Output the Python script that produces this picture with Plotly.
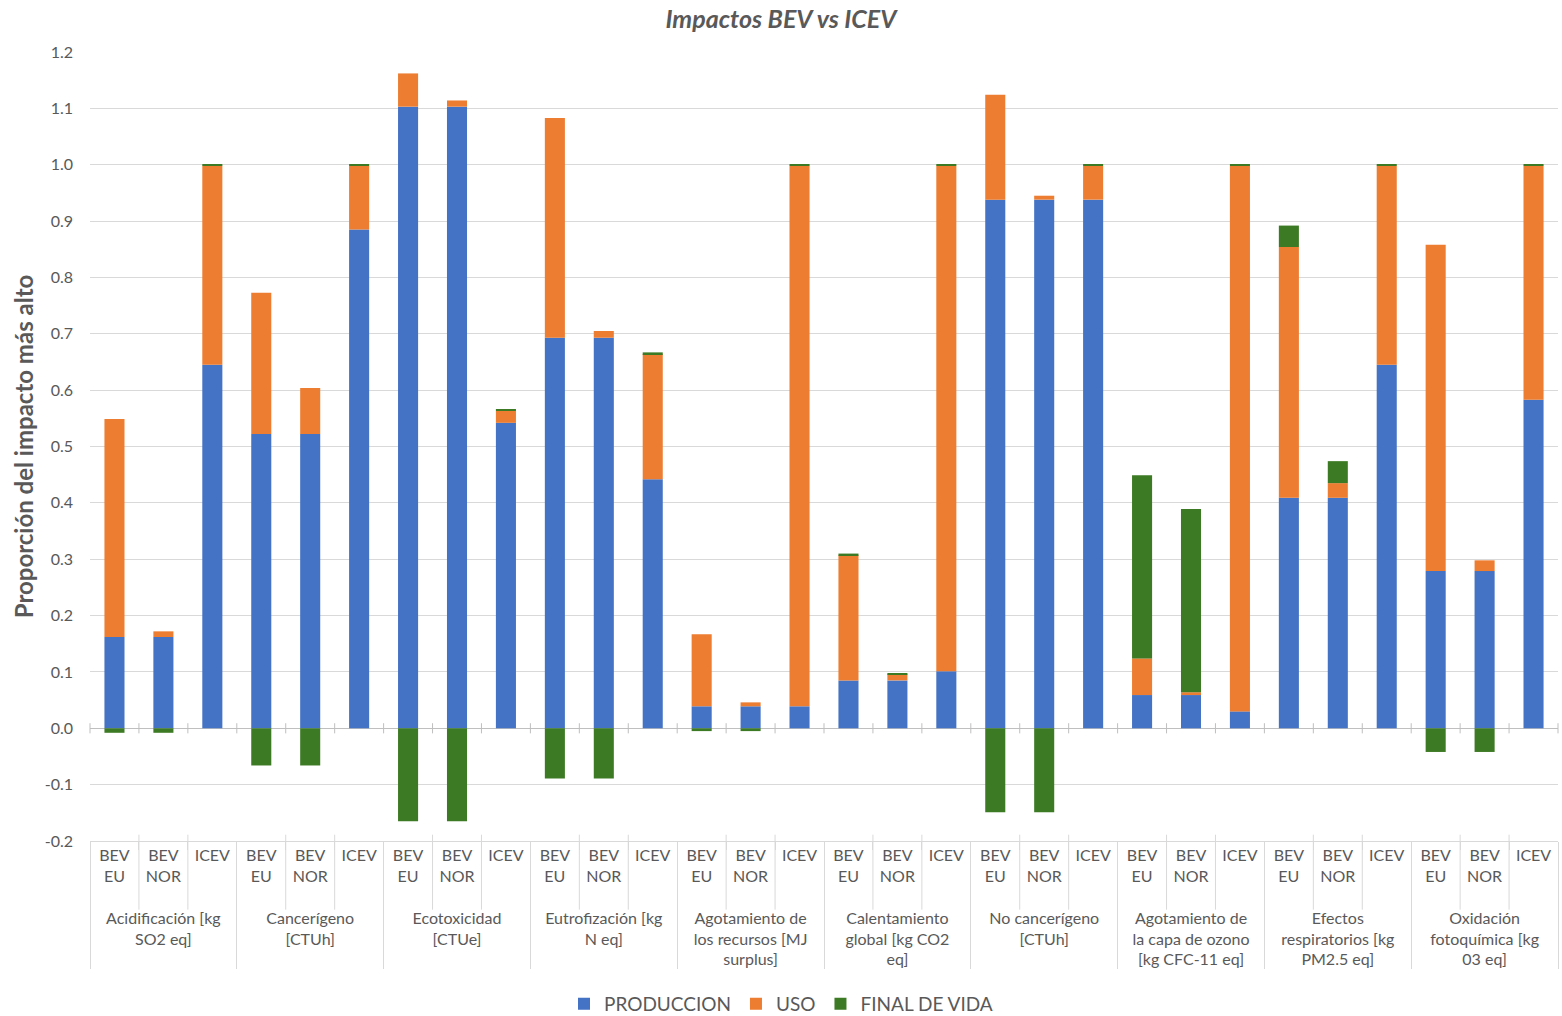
import plotly.graph_objects as go

# Impact categories (wrapped for the grouped category axis)
categories = [
    "Acidificación [kg<br>SO2 eq]",
    "Cancerígeno<br>[CTUh]",
    "Ecotoxicidad<br>[CTUe]",
    "Eutrofización [kg<br>N eq]",
    "Agotamiento de<br>los recursos [MJ<br>surplus]",
    "Calentamiento<br>global [kg CO2<br>eq]",
    "No cancerígeno<br>[CTUh]",
    "Agotamiento de<br>la capa de ozono<br>[kg CFC-11 eq]",
    "Efectos<br>respiratorios [kg<br>PM2.5 eq]",
    "Oxidación<br>fotoquímica [kg<br>03 eq]",
]
# Vehicle labels; the trailing blank line leaves room above the category row
vehicles = ["BEV<br>EU<br>\u00a0", "BEV<br>NOR<br>\u00a0", "ICEV"]

# Share of the highest impact, per category in order BEV EU, BEV NOR, ICEV
produccion = [
    0.162, 0.162, 0.645,
    0.522, 0.522, 0.885,
    1.103, 1.103, 0.542,
    0.693, 0.693, 0.442,
    0.039, 0.039, 0.039,
    0.085, 0.085, 0.101,
    0.938, 0.938, 0.938,
    0.059, 0.059, 0.030,
    0.409, 0.409, 0.645,
    0.279, 0.279, 0.583,
]
uso = [
    0.387, 0.010, 0.353,
    0.251, 0.082, 0.113,
    0.059, 0.011, 0.021,
    0.390, 0.012, 0.222,
    0.128, 0.007, 0.959,
    0.222, 0.011, 0.897,
    0.186, 0.007, 0.060,
    0.065, 0.005, 0.968,
    0.445, 0.026, 0.353,
    0.579, 0.019, 0.415,
]
final_de_vida = [
    -0.008, -0.008, 0.002,
    -0.066, -0.066, 0.002,
    -0.165, -0.165, 0.003,
    -0.089, -0.089, 0.003,
    -0.005, -0.005, 0.002,
    0.003, 0.002, 0.002,
    -0.149, -0.149, 0.002,
    0.325, 0.325, 0.002,
    0.038, 0.039, 0.002,
    -0.042, -0.042, 0.002,
]

# Value-axis ticks
y_ticks = [-0.2, -0.1, 0.0, 0.1, 0.2, 0.3, 0.4, 0.5, 0.6, 0.7, 0.8, 0.9, 1.0, 1.1, 1.2]
y_tick_labels = ["-0.2", "-0.1", "0.0", "0.1", "0.2", "0.3", "0.4", "0.5",
                 "0.6", "0.7", "0.8", "0.9", "1.0", "1.1", "1.2"]

x_groups = [c for c in categories for _ in vehicles]
x_sub = [v for _ in categories for v in vehicles]
x = [x_groups, x_sub]

FONT = "Lato, sans-serif"
GREY = "#595959"
AXIS_GREY = "#D9D9D9"

series = [
    ("PRODUCCION", produccion, "#4472C4"),
    ("USO", uso, "#ED7D31"),
    ("FINAL DE VIDA", final_de_vida, "#3D7A24"),
]

fig = go.Figure()
for name, vals, color in series:
    fig.add_trace(go.Bar(
        name=name, x=x, y=vals,
        marker=dict(color=color, line=dict(width=0)),
    ))

# Separators between the vehicle labels and tick marks on the zero line
n_slots = len(x_sub)
shapes = []
for k in range(0, n_slots + 1):
    xp = k / n_slots
    shapes.append(dict(type="line", xref="paper", yref="y",
                       x0=xp, x1=xp, y0=-0.009, y1=0.009,
                       line=dict(color="#BFBFBF", width=1)))
    if k % len(vehicles):
        shapes.append(dict(type="line", xref="paper", yref="paper",
                           x0=xp, x1=xp, y0=0.008, y1=-0.087,
                           line=dict(color=AXIS_GREY, width=1)))

fig.update_layout(
    width=1562, height=1016,
    barmode="relative",
    bargap=0.59,
    paper_bgcolor="white",
    plot_bgcolor="white",
    font=dict(family=FONT, color=GREY, size=16),
    margin=dict(l=90, r=4, t=52, b=175),
    shapes=shapes,
    title=dict(
        text="<b><i>Impactos BEV vs ICEV</i></b>",
        x=0.5, xref="container", xanchor="center",
        y=0.981, yref="container", yanchor="middle",
        font=dict(size=25, color=GREY, family=FONT),
    ),
    legend=dict(
        orientation="h",
        xref="container",
        x=0.5, xanchor="center",
        yref="container",
        y=0.012, yanchor="middle",
        font=dict(size=19, color=GREY, family=FONT),
        traceorder="normal",
        itemwidth=30,
    ),
    yaxis=dict(
        range=[-0.2, 1.2],
        tickmode="array",
        tickvals=y_ticks,
        ticktext=y_tick_labels,
        showgrid=True,
        gridcolor=AXIS_GREY,
        gridwidth=1,
        zeroline=True,
        zerolinecolor="#BFBFBF",
        zerolinewidth=1,
        showline=False,
        ticks="",
        ticklabelstandoff=16,
        automargin=False,
        tickfont=dict(size=16, color=GREY),
        title=dict(
            text="<b>Proporción del impacto más alto</b>",
            font=dict(size=24, color=GREY),
            standoff=4,
        ),
    ),
    xaxis=dict(
        type="multicategory",
        automargin=False,
        showline=True,
        linecolor=AXIS_GREY,
        ticks="outside",
        tickcolor=AXIS_GREY,
        ticklen=8,
        showdividers=True,
        dividercolor=AXIS_GREY,
        dividerwidth=1,
        tickfont=dict(size=16, color=GREY),
    ),
)

fig.write_html("out.html")
